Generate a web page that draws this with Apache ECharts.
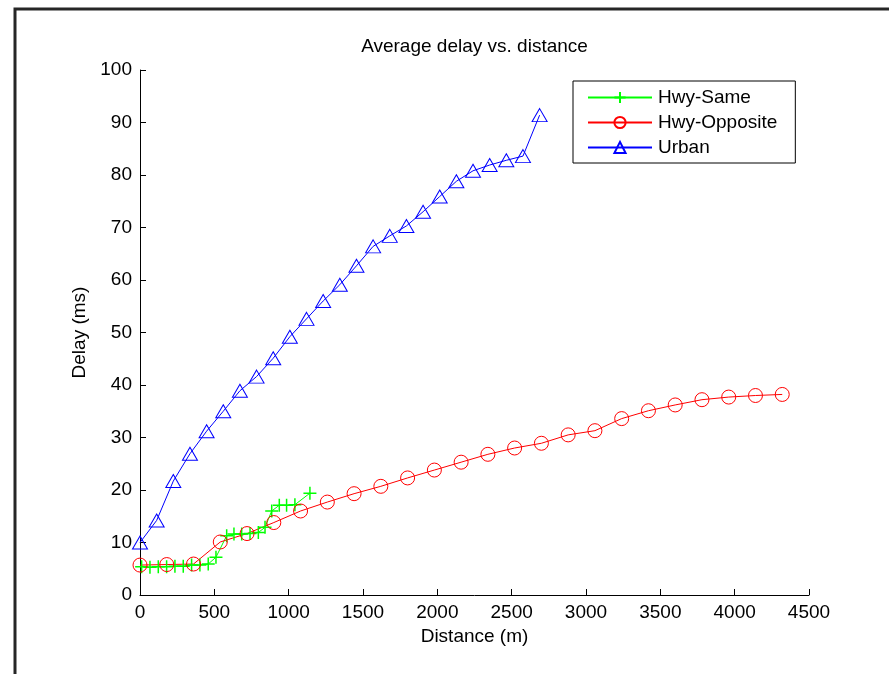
<!DOCTYPE html>
<html>
<head>
<meta charset="utf-8">
<script src="https://cdn.jsdelivr.net/npm/echarts@6/dist/echarts.min.js"></script>
<style>
html,body{margin:0;padding:0;background:#fff;}
#chart{width:889px;height:674px;}
</style>
</head>
<body>
<div id="chart"></div>
<script>
// ---- data ----
var sameX = [11, 67, 123, 179, 235, 291, 347, 403, 459, 511, 583, 632, 684, 740, 796, 841, 886, 937, 986, 1042, 1143];
var sameY = [5.4, 5.3, 5.4, 5.4, 5.5, 5.5, 5.7, 5.7, 5.9, 7.2, 11.3, 11.6, 11.6, 11.7, 11.9, 12.9, 16.0, 17.1, 17.1, 17.2, 19.4];

var oppX = [0, 180, 360, 540, 720, 900, 1080, 1260, 1440, 1620, 1800, 1980, 2160, 2340, 2520, 2700, 2880, 3060, 3240, 3420, 3600, 3780, 3960, 4140, 4320];
var oppY = [5.7, 5.8, 5.9, 10.1, 11.7, 13.8, 16.0, 17.7, 19.3, 20.7, 22.3, 23.8, 25.3, 26.8, 28.0, 28.9, 30.5, 31.3, 33.6, 35.1, 36.2, 37.2, 37.7, 38.0, 38.2];

var urbanX = [0, 112, 224, 336, 448, 560, 672, 784, 896, 1008, 1120, 1232, 1344, 1456, 1568, 1680, 1792, 1904, 2016, 2128, 2240, 2352, 2464, 2576, 2688];
var urbanY = [10.0, 14.2, 21.7, 26.9, 31.2, 35.0, 38.9, 41.6, 45.1, 49.2, 52.6, 56.0, 59.1, 62.7, 66.4, 68.4, 70.3, 73.0, 75.9, 78.8, 80.8, 81.9, 82.8, 83.6, 91.4];

var seriesNames = ['Hwy-Same', 'Hwy-Opposite', 'Urban'];
var titleText = 'Average delay vs. distance';
var xName = 'Distance (m)';
var yName = 'Delay (ms)';

function pairs(xs, ys) {
  var out = [];
  for (var i = 0; i < xs.length; i++) out.push([xs[i], ys[i]]);
  return out;
}

var FONT = "'Liberation Sans', Arial, Helvetica, sans-serif";
var FS = 19;
var chart = echarts.init(document.getElementById('chart'), null, {renderer: 'canvas'});

var option = {
  animation: false,
  backgroundColor: '#fff',
  textStyle: {fontFamily: FONT, color: '#000'},
  grid: {left: 140, right: 80, top: 70, bottom: 79, containLabel: false},
  graphic: [
    {
      type: 'polyline',
      shape: {points: [[15, 674], [15, 9], [889, 9]]},
      style: {stroke: '#262626', lineWidth: 3, fill: null},
      silent: true
    },
    {
      type: 'text',
      x: 474.5,
      y: 47,
      style: {
        text: titleText,
        fill: '#000',
        font: FS + "px 'Liberation Sans', Arial, sans-serif",
        textAlign: 'center',
        textVerticalAlign: 'middle'
      },
      silent: true
    }
  ],
  legend: {
    orient: 'vertical',
    left: 573,
    top: 81,
    padding: [7, 18, 6, 14],
    itemGap: 6,
    itemWidth: 64,
    itemHeight: 14,
    backgroundColor: '#fff',
    borderColor: '#000',
    borderWidth: 1,
    borderRadius: 0,
    textStyle: {fontFamily: FONT, fontSize: FS, color: '#000', padding: [0, 0, 0, 1]},
    data: seriesNames
  },
  xAxis: {
    type: 'value',
    min: 0,
    max: 4500,
    interval: 500,
    name: xName,
    nameLocation: 'middle',
    nameGap: 32,
    nameTextStyle: {fontFamily: FONT, fontSize: FS, color: '#000'},
    axisLine: {lineStyle: {color: '#000', width: 1}},
    axisTick: {inside: true, length: 6, lineStyle: {color: '#000'}},
    axisLabel: {fontFamily: FONT, fontSize: FS, color: '#000', margin: 8,
      formatter: function (v) { return String(v); }},
    splitLine: {show: false}
  },
  yAxis: {
    type: 'value',
    min: 0,
    max: 100,
    interval: 10,
    name: yName,
    nameLocation: 'middle',
    nameGap: 50,
    nameTextStyle: {fontFamily: FONT, fontSize: FS, color: '#000'},
    axisLine: {show: true, lineStyle: {color: '#000', width: 1}},
    axisTick: {show: true, inside: true, length: 6, lineStyle: {color: '#000'}},
    axisLabel: {fontFamily: FONT, fontSize: FS, color: '#000', margin: 8,
      formatter: function (v) { return String(v); }},
    splitLine: {show: false}
  },
  series: [
    {
      name: seriesNames[0],
      type: 'line',
      data: pairs(sameX, sameY),
      symbol: 'path://M5,0L5,10M0,5L10,5',
      symbolSize: 13,
      lineStyle: {color: '#00ff00', width: 1},
      itemStyle: {color: '#00ff00', borderColor: '#00ff00', borderWidth: 1.5},
      emphasis: {disabled: true}
    },
    {
      name: seriesNames[1],
      type: 'line',
      data: pairs(oppX, oppY),
      symbol: 'circle',
      symbolSize: 14,
      lineStyle: {color: '#ff0000', width: 1},
      itemStyle: {color: 'rgba(255,255,255,0)', borderColor: '#ff0000', borderWidth: 1},
      emphasis: {disabled: true}
    },
    {
      name: seriesNames[2],
      type: 'line',
      data: pairs(urbanX, urbanY),
      symbol: 'triangle',
      symbolSize: [15, 13],
      lineStyle: {color: '#0000ff', width: 1},
      itemStyle: {color: 'rgba(255,255,255,0)', borderColor: '#0000ff', borderWidth: 1},
      emphasis: {disabled: true}
    }
  ]
};
chart.setOption(option);
</script>
</body>
</html>
